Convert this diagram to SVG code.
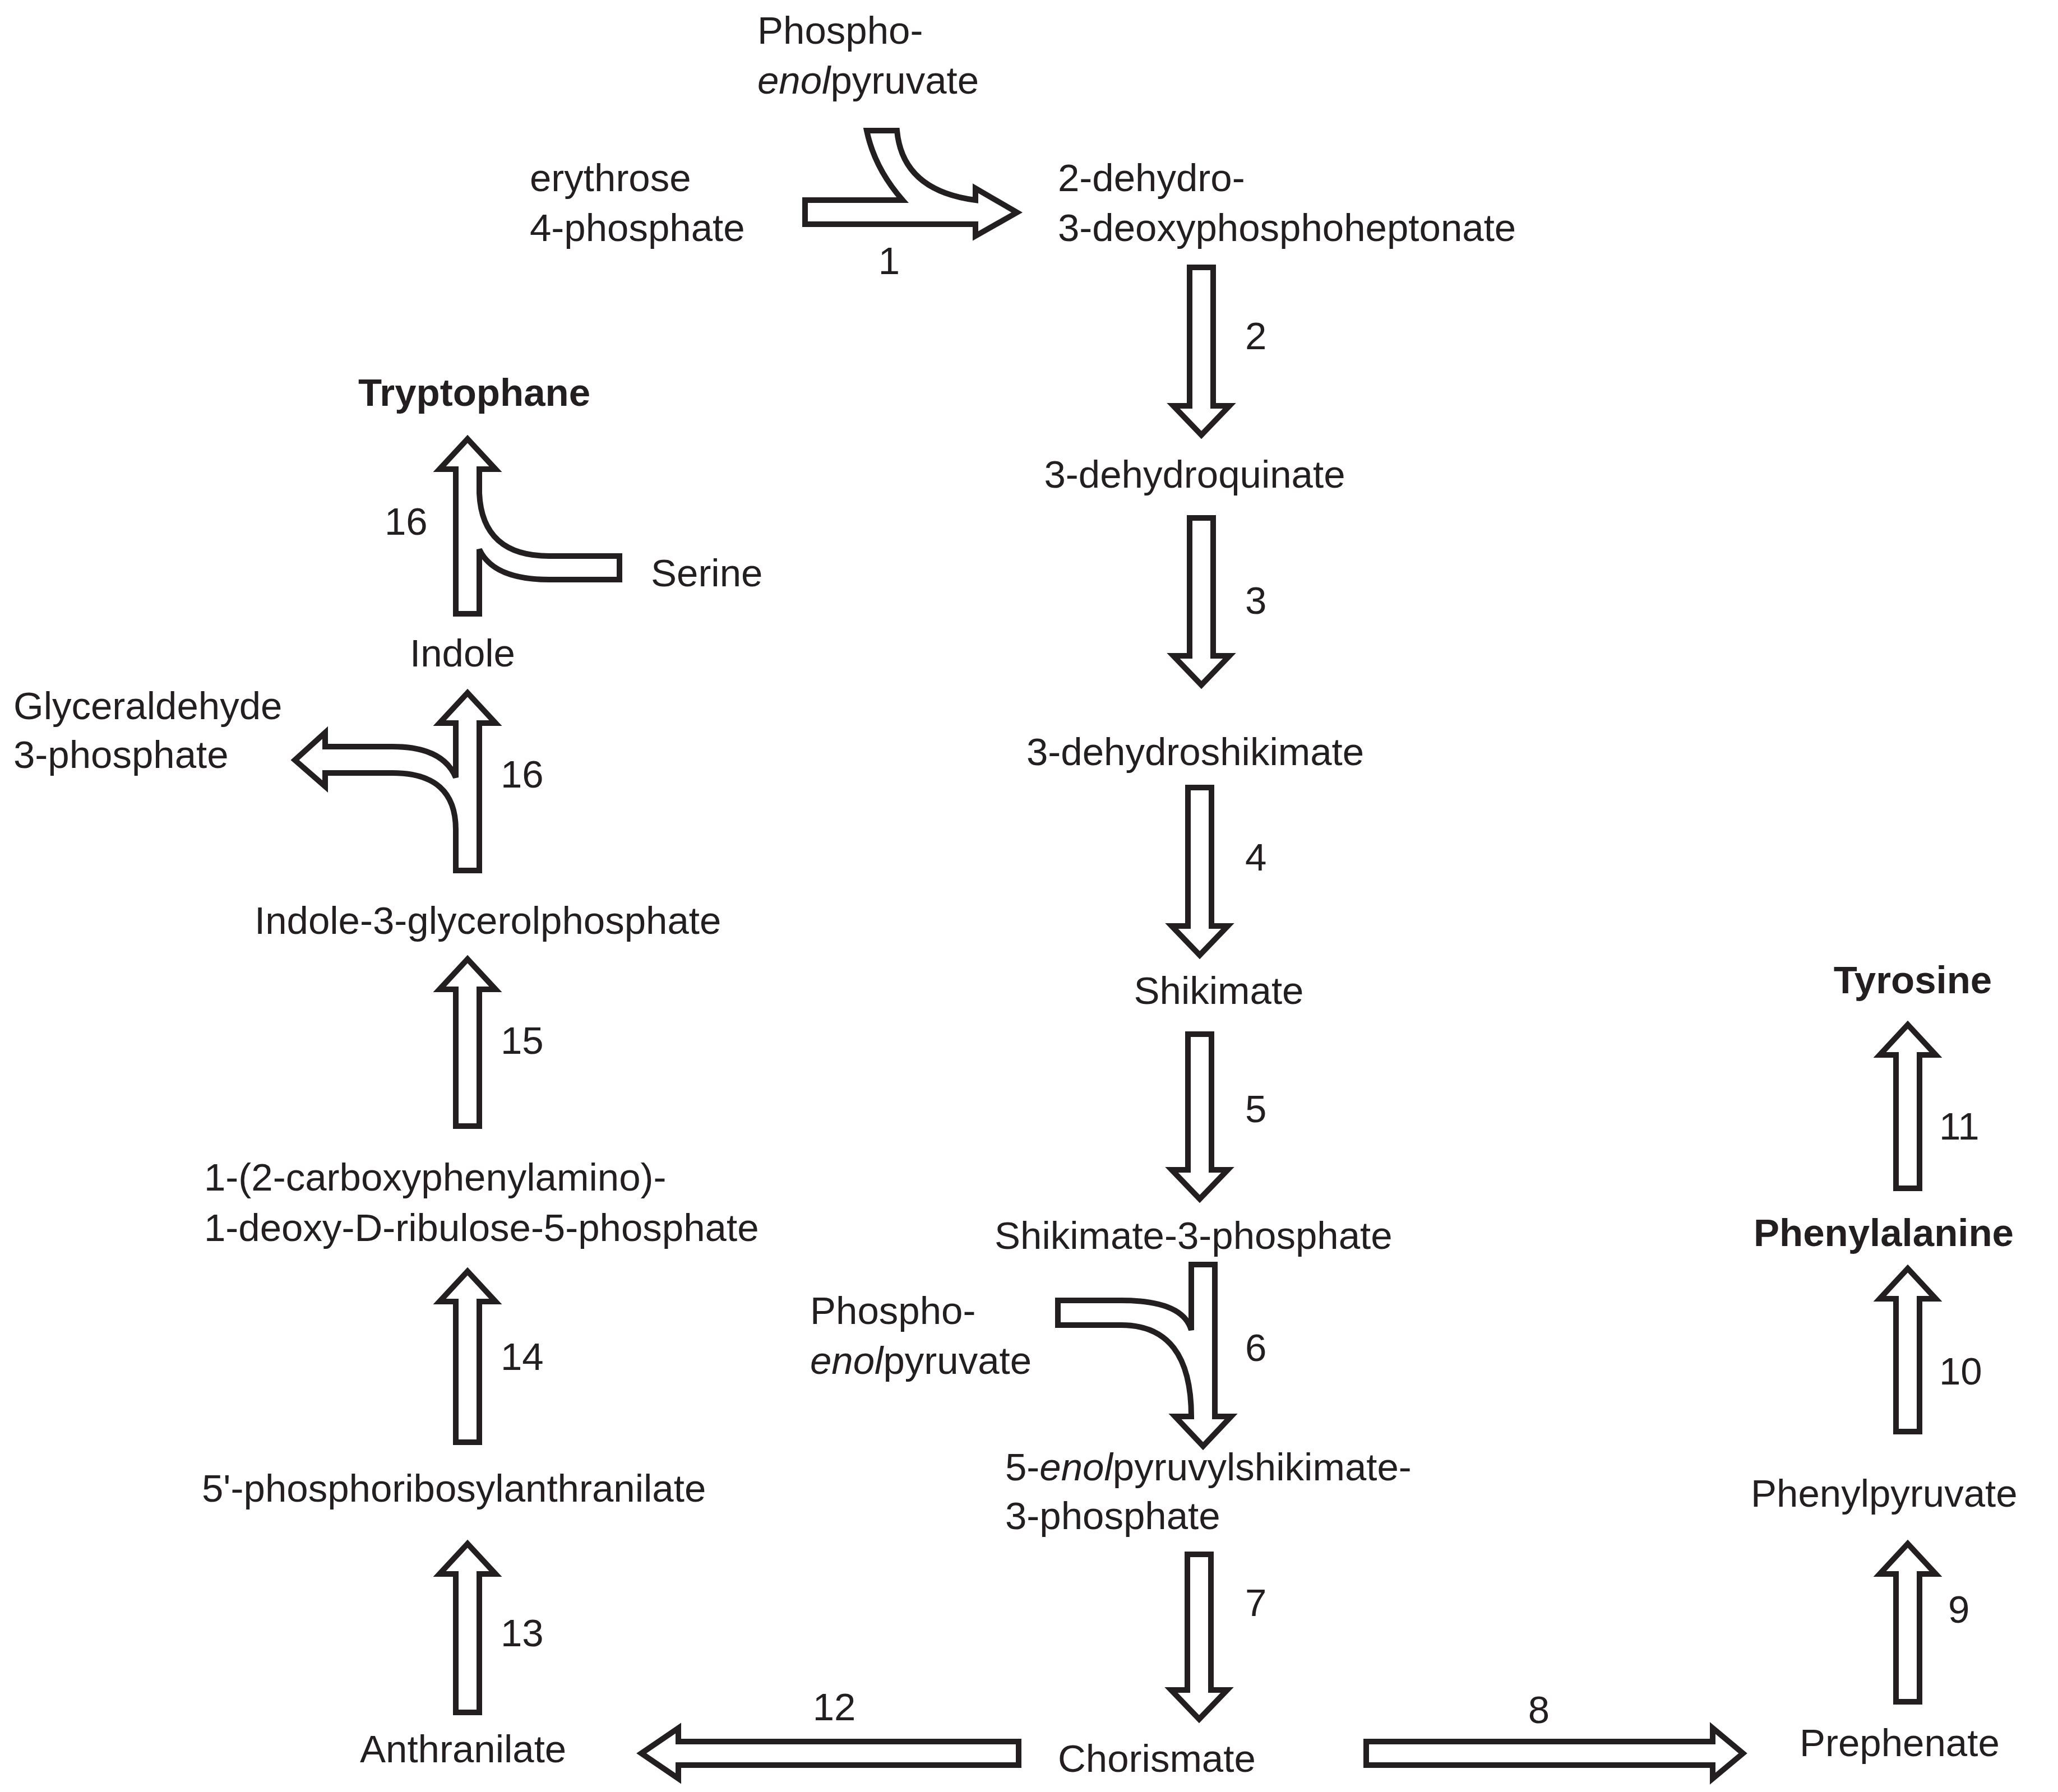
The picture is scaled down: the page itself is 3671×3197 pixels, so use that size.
<svg xmlns="http://www.w3.org/2000/svg" width="3671" height="3197" viewBox="0 0 3671 3197">
<style>
text{font-family:"Liberation Sans",Arial,sans-serif;font-size:69px;fill:#231f20}
.b{font-weight:bold}
.m{text-anchor:middle}
path{fill:#fff;stroke:#231f20;stroke-width:10;stroke-linejoin:miter}
</style>
<rect width="3671" height="3197" fill="#fff"/>
<g id="connectors">
<path d="M1436 357 H1610 Q1560 300 1546 233 H1600 Q1610 340 1740 357 V336 L1814 379 L1740 421 V400 H1436 Z"/>
<path d="M2122 477 H2164 V724 H2193 L2143 776 L2093 724 H2122 Z"/>
<path d="M2122 924 H2164 V1170 H2193 L2143 1222 L2093 1170 H2122 Z"/>
<path d="M2119 1405 H2161 V1652 H2190 L2140 1704 L2090 1652 H2119 Z"/>
<path d="M2119 1845 H2161 V2087 H2190 L2140 2139 L2090 2087 H2119 Z"/>
<path d="M2125 2256 H2167 V2527 H2196 L2146 2580 L2096 2527 H2125 Q2125 2364 2000 2364 H1887 V2320 H2000 Q2110 2320 2125 2373 Z"/>
<path d="M2118 2773 H2160 V3015 H2189 L2139 3067 L2089 3015 H2118 Z"/>
<path d="M1817 3107 V3149 H1210 V3173 L1144 3128 L1210 3083 V3107 Z"/>
<path d="M2437 3107 H3055 V3083 L3109 3128 L3055 3173 V3149 H2437 Z"/>
<path d="M3382 3036 V2808 H3353 L3403 2754 L3453 2808 H3424 V3036 Z"/>
<path d="M3382 2554 V2317 H3353 L3403 2263 L3453 2317 H3424 V2554 Z"/>
<path d="M3382 2120 V1882 H3353 L3403 1828 L3453 1882 H3424 V2120 Z"/>
<path d="M813 3055 V2808 H784 L834 2754 L884 2808 H855 V3055 Z"/>
<path d="M813 2573 V2322 H784 L834 2268 L884 2322 H855 V2573 Z"/>
<path d="M813 2009 V1765 H784 L834 1711 L884 1765 H855 V2009 Z"/>
<path d="M813 1553 V1480 Q813 1379 700 1379 H580 V1403 L526 1356 L580 1307 V1332 H700 Q790 1332 813 1387 V1290 H784 L834 1236 L884 1290 H855 V1553 Z"/>
<path d="M813 1095 V837 H784 L834 783 L884 837 H855 V880 Q860 992 980 992 H1105 V1034 H980 Q880 1034 855 980 V1095 Z"/>
</g>
<g id="labels">
<text x="1586" y="489" class="m">1</text>
<text x="2221" y="623">2</text>
<text x="2221" y="1095">3</text>
<text x="2221" y="1553">4</text>
<text x="2221" y="2002">5</text>
<text x="2221" y="2428">6</text>
<text x="2221" y="2883">7</text>
<text x="2745" y="3074" class="m">8</text>
<text x="3475" y="2895">9</text>
<text x="3459" y="2470">10</text>
<text x="3459" y="2033">11</text>
<text x="1488" y="3069" class="m">12</text>
<text x="893" y="2937">13</text>
<text x="893" y="2444">14</text>
<text x="893" y="1880">15</text>
<text x="893" y="1405">16</text>
<text x="686" y="954">16</text>
</g>
<g id="n-pep1"><text x="1351" y="78">Phospho-</text><text x="1351" y="167"><tspan font-style="italic">enol</tspan>pyruvate</text></g>
<g id="n-e4p"><text x="945" y="341">erythrose</text><text x="945" y="430">4-phosphate</text></g>
<g id="n-dahp"><text x="1887" y="341">2-dehydro-</text><text x="1887" y="430">3-deoxyphosphoheptonate</text></g>
<g id="n-dhq"><text x="2131" y="870" class="m">3-dehydroquinate</text></g>
<g id="n-dhs"><text x="1831" y="1365">3-dehydroshikimate</text></g>
<g id="n-shik"><text x="2174" y="1791" class="m">Shikimate</text></g>
<g id="n-s3p"><text x="1774" y="2228">Shikimate-3-phosphate</text></g>
<g id="n-pep2"><text x="1445" y="2362">Phospho-</text><text x="1445" y="2451"><tspan font-style="italic">enol</tspan>pyruvate</text></g>
<g id="n-epsp"><text x="1793" y="2641">5-<tspan font-style="italic">enol</tspan>pyruvylshikimate-</text><text x="1793" y="2728">3-phosphate</text></g>
<g id="n-chor"><text x="1887" y="3161">Chorismate</text></g>
<g id="n-anth"><text x="642" y="3144">Anthranilate</text></g>
<g id="n-preph"><text x="3210" y="3133">Prephenate</text></g>
<g id="n-phpyr"><text x="3123" y="2688">Phenylpyruvate</text></g>
<g id="n-phe"><text x="3128" y="2223" class="b">Phenylalanine</text></g>
<g id="n-tyr"><text x="3412" y="1772" class="b m">Tyrosine</text></g>
<g id="n-pra"><text x="360" y="2679">5'-phosphoribosylanthranilate</text></g>
<g id="n-cdrp"><text x="364" y="2124">1-(2-carboxyphenylamino)-</text><text x="364" y="2214">1-deoxy-D-ribulose-5-phosphate</text></g>
<g id="n-igp"><text x="454" y="1666">Indole-3-glycerolphosphate</text></g>
<g id="n-g3p"><text x="24" y="1283">Glyceraldehyde</text><text x="24" y="1370">3-phosphate</text></g>
<g id="n-indole"><text x="731" y="1189">Indole</text></g>
<g id="n-serine"><text x="1161" y="1046">Serine</text></g>
<g id="n-trp"><text x="639" y="724" class="b">Tryptophane</text></g>
</svg>
